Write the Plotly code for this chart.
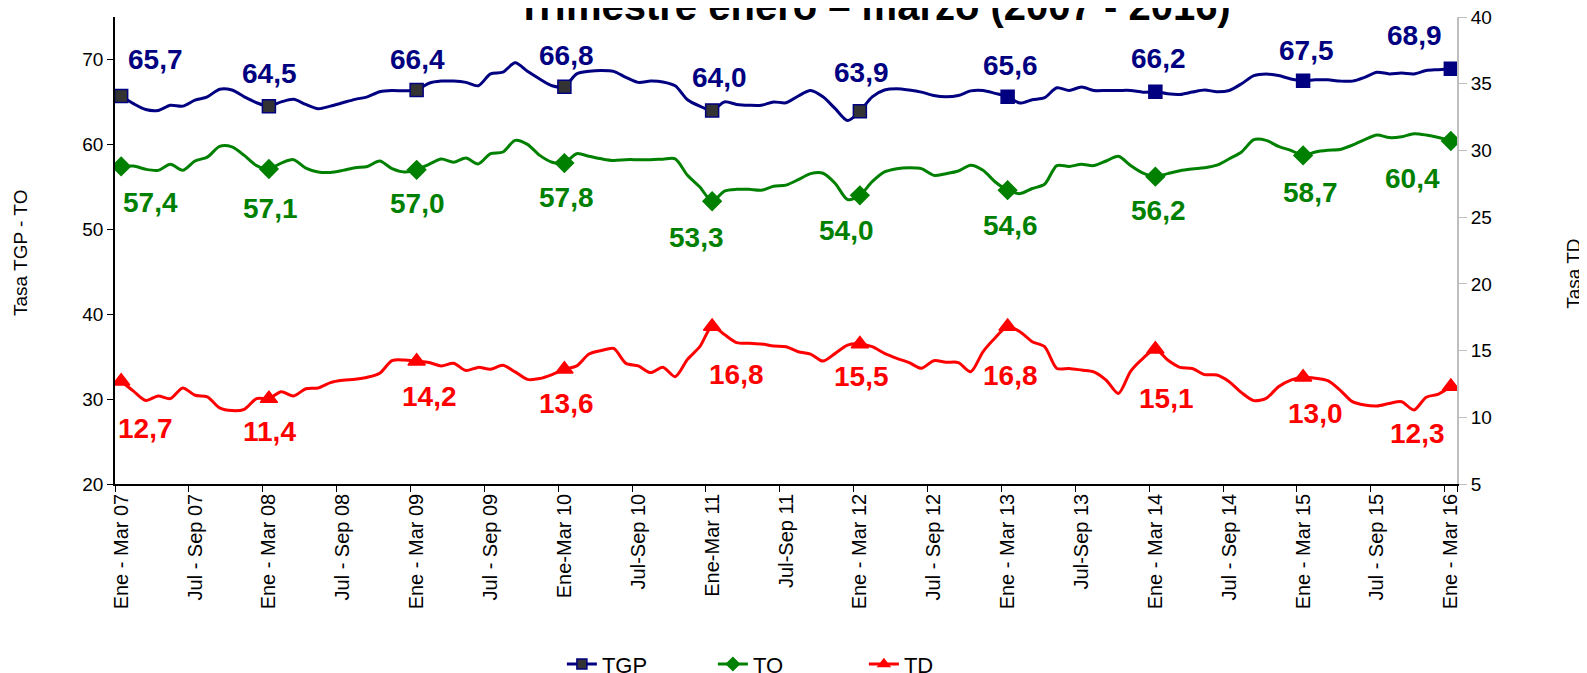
import plotly.graph_objects as go

# ---------------- data ----------------
MESES = ["Ene", "Feb", "Mar", "Abr", "May", "Jun", "Jul", "Ago", "Sep", "Oct", "Nov", "Dic"]
periodos = [f"{MESES[k % 12]} - {MESES[(k + 2) % 12]} {7 + (k + 2) // 12:02d}" for k in range(109)]

tick_labels = ["Ene - Mar 07", "Jul - Sep 07", "Ene - Mar 08", "Jul - Sep 08", "Ene - Mar 09",
               "Jul - Sep 09", "Ene-Mar 10", "Jul-Sep 10", "Ene-Mar 11", "Jul-Sep 11",
               "Ene - Mar 12", "Jul - Sep 12", "Ene - Mar 13", "Jul-Sep 13", "Ene - Mar 14",
               "Jul - Sep 14", "Ene - Mar 15", "Jul - Sep 15", "Ene - Mar 16"]

tgp = [65.7, 64.8, 64.1, 64.0, 64.6, 64.5, 65.2, 65.6, 66.5, 66.4, 65.6, 64.9,
       64.5, 65.0, 65.3, 64.7, 64.2, 64.5, 64.9, 65.3, 65.6, 66.2, 66.35, 66.3,
       66.4, 67.2, 67.45, 67.45, 67.3, 66.9, 68.3, 68.5, 69.6, 68.6, 67.7, 66.9,
       66.8, 68.3, 68.6, 68.7, 68.6, 67.9, 67.3, 67.45, 67.35, 66.9, 65.25, 64.5,
       64.0, 65.0, 64.7, 64.6, 64.6, 65.0, 64.9, 65.7, 66.35, 65.6, 64.2, 62.8,
       63.9, 65.6, 66.4, 66.55, 66.4, 66.15, 65.75, 65.6, 65.76, 66.3, 66.35, 66.0,
       65.6, 64.86, 65.25, 65.5, 66.67, 66.35, 66.75, 66.35, 66.35, 66.35, 66.35, 66.15,
       66.2, 65.96, 65.88, 66.16, 66.4, 66.2, 66.35, 67.14, 68.1, 68.3, 68.1, 67.7,
       67.5, 67.6, 67.6, 67.45, 67.45, 67.9, 68.5, 68.3, 68.4, 68.3, 68.7, 68.8,
       68.9]

to = [57.4, 57.45, 57.06, 56.94, 57.65, 56.94, 58.04, 58.5, 59.76, 59.7, 58.7, 57.5,
      57.1, 57.8, 58.2, 57.2, 56.75, 56.7, 56.94, 57.25, 57.4, 58.05, 57.14, 56.75,
      57.0, 57.65, 58.27, 57.9, 58.4, 57.7, 58.9, 59.1, 60.47, 60.0, 58.7, 57.9,
      57.8, 58.9, 58.6, 58.3, 58.1, 58.2, 58.2, 58.2, 58.25, 58.3, 56.35, 54.98,
      53.3, 54.5, 54.7, 54.7, 54.6, 55.06, 55.2, 55.84, 56.55, 56.6, 55.4, 53.5,
      54.0, 55.6, 56.75, 57.14, 57.25, 57.14, 56.35, 56.55, 56.86, 57.53, 56.94, 55.57,
      54.6, 54.2, 54.8, 55.3, 57.5, 57.4, 57.65, 57.5, 58.04, 58.6, 57.5, 56.6,
      56.2, 56.55, 56.9, 57.1, 57.25, 57.55, 58.3, 59.1, 60.55, 60.47, 59.76, 59.3,
      58.7, 59.1, 59.3, 59.4, 59.9, 60.55, 61.1, 60.8, 60.9, 61.25, 61.1, 60.8,
      60.4]

td = [12.7, 11.96, 11.26, 11.6, 11.4, 12.2, 11.65, 11.53, 10.7, 10.5, 10.6, 11.4,
      11.4, 11.92, 11.6, 12.14, 12.2, 12.6, 12.77, 12.85, 13.0, 13.3, 14.24, 14.29,
      14.2, 14.1, 13.85, 14.05, 13.5, 13.74, 13.6, 13.9, 13.4, 12.84, 12.9, 13.2,
      13.6, 13.85, 14.74, 15.0, 15.16, 14.04, 13.85, 13.35, 13.75, 13.04, 14.34, 15.29,
      16.8, 16.2, 15.59, 15.54, 15.49, 15.34, 15.29, 14.91, 14.74, 14.21, 14.79, 15.41,
      15.5, 15.29, 14.79, 14.42, 14.1, 13.67, 14.24, 14.12, 14.1, 13.41, 14.91, 15.96,
      16.8, 16.41, 15.66, 15.29, 13.66, 13.66, 13.54, 13.41, 12.79, 11.79, 13.46, 14.42,
      15.1, 14.29, 13.74, 13.66, 13.2, 13.17, 12.67, 11.85, 11.25, 11.42, 12.29, 12.79,
      13.0, 12.92, 12.74, 12.04, 11.17, 10.92, 10.85, 11.04, 11.17, 10.55, 11.5, 11.74,
      12.3]

tgp_labels = ["65,7", "64,5", "66,4", "66,8", "64,0", "63,9", "65,6", "66,2", "67,5", "68,9"]
to_labels = ["57,4", "57,1", "57,0", "57,8", "53,3", "54,0", "54,6", "56,2", "58,7", "60,4"]
td_labels = ["12,7", "11,4", "14,2", "13,6", "16,8", "15,5", "16,8", "15,1", "13,0", "12,3"]

# ---------------- styling ----------------
NAVY, GREEN, RED = "#000080", "#008000", "#ff0000"
FONT = "Liberation Sans, Arial, sans-serif"
annual = list(range(0, 109, 12))

# label offsets in pixels (dx right, dy down)
tgp_off = [(34, -36), (1, -33), (1, -31), (2, -31), (7, -33), (2, -39), (3, -31), (3, -33), (3, -30), (-36, -33)]
to_off = [(29, 36), (2, 40), (1, 34), (2, 34), (-16, 36), (-13, 35), (3, 35), (3, 34), (7, 37), (-38, 38)]
td_off = [(24, 47), (1, 33), (13, 35), (2, 34), (24, 48), (2, 33), (3, 49), (11, 49), (12, 36), (-33, 47)]

fig = go.Figure()


def add_series(name, y, color, symbol, msize, fill, yaxis, line_w=3):
    sizes = [msize if i % 12 == 0 else 0 for i in range(len(y))]
    fig.add_trace(go.Scatter(
        x=periodos, y=y, name=name, mode="lines+markers", yaxis=yaxis,
        line=dict(color=color, width=line_w, shape="spline", smoothing=0.8),
        marker=dict(symbol=symbol, size=sizes, color=fill, opacity=1,
                    line=dict(color=color, width=1.5)),
        showlegend=False, hoverinfo="x+y"))
    # legend entry
    fig.add_trace(go.Scatter(
        x=[None], y=[None], name=name, mode="lines+markers", yaxis=yaxis,
        line=dict(color=color, width=3),
        marker=dict(symbol=symbol, size=10, opacity=1,
                    color=fill[0] if isinstance(fill, list) else fill,
                    line=dict(color=color, width=1.5))))


tgp_fill = ["#333333" if i <= 60 else NAVY for i in range(109)]
add_series("TGP", tgp, NAVY, "square", 13, tgp_fill, "y")
add_series("TO", to, GREEN, "diamond", 14, GREEN, "y")
add_series("TD", td, RED, "triangle-up", 15, RED, "y2")

annots = []
for labels, vals, offs, color, yref in [(tgp_labels, tgp, tgp_off, NAVY, "y"),
                                        (to_labels, to, to_off, GREEN, "y"),
                                        (td_labels, td, td_off, RED, "y2")]:
    for k, idx in enumerate(annual):
        dx, dy = offs[k]
        annots.append(dict(x=periodos[idx], y=vals[idx], xref="x", yref=yref,
                           text=f"<b>{labels[k]}</b>", showarrow=False,
                           xshift=dx, yshift=-dy,
                           font=dict(family=FONT, size=28, color=color)))

annots.append(dict(x=-0.0703, y=0.494, xref="paper", yref="paper", text="Tasa TGP - TO",
                   xanchor="center", yanchor="middle",
                   textangle=-90, showarrow=False, font=dict(family=FONT, size=19, color="black")))
annots.append(dict(x=1.0868, y=0.451, xref="paper", yref="paper", text="Tasa TD",
                   xanchor="center", yanchor="middle",
                   textangle=-90, showarrow=False, font=dict(family=FONT, size=19, color="black")))
# chart title (top part falls outside the page, as in the original)
annots.append(dict(x=0.5655, y=1.0235, xref="paper", yref="paper",
                   text="<b>Trimestre enero – marzo (2007 - 2016)</b>",
                   xanchor="center", yanchor="middle", showarrow=False,
                   font=dict(family=FONT, size=40, color="black")))

fig.update_layout(
    width=1579, height=700,
    margin=dict(l=106.5, r=129.5, t=9, b=223.5),
    paper_bgcolor="white", plot_bgcolor="white",
    xaxis=dict(type="category", range=[-0.5, 108.5], tickmode="array",
               tickvals=periodos[::6], ticktext=tick_labels, tickson="boundaries",
               tickangle=-90, ticks="outside", ticklen=6, tickcolor="black",
               showline=True, linecolor="black", linewidth=1.5, showgrid=False,
               automargin=False,
               tickfont=dict(family=FONT, size=20, color="black")),
    yaxis=dict(range=[20, 75], tickvals=[20, 30, 40, 50, 60, 70], ticks="outside",
               ticklen=6, tickcolor="black", showline=True, linecolor="black", linewidth=1.5,
               showgrid=False, zeroline=False, automargin=False,
               tickfont=dict(family=FONT, size=19, color="black")),
    yaxis2=dict(range=[5, 40], overlaying="y", side="right", tickvals=[5, 10, 15, 20, 25, 30, 35, 40],
                ticks="outside", ticklen=8, tickcolor="#bfbfbf", showline=True, linecolor="#bfbfbf",
                linewidth=2, showgrid=False, zeroline=False, ticklabeloverflow="allow",
                automargin=False,
                tickfont=dict(family=FONT, size=19, color="black")),
    legend=dict(orientation="h", x=0.333, xanchor="left", y=-0.386, yanchor="middle",
                font=dict(family=FONT, size=22, color="black"),
                entrywidth=106, entrywidthmode="pixels",
                bgcolor="rgba(0,0,0,0)"),
    annotations=annots,
)

fig.write_html("out.html")
